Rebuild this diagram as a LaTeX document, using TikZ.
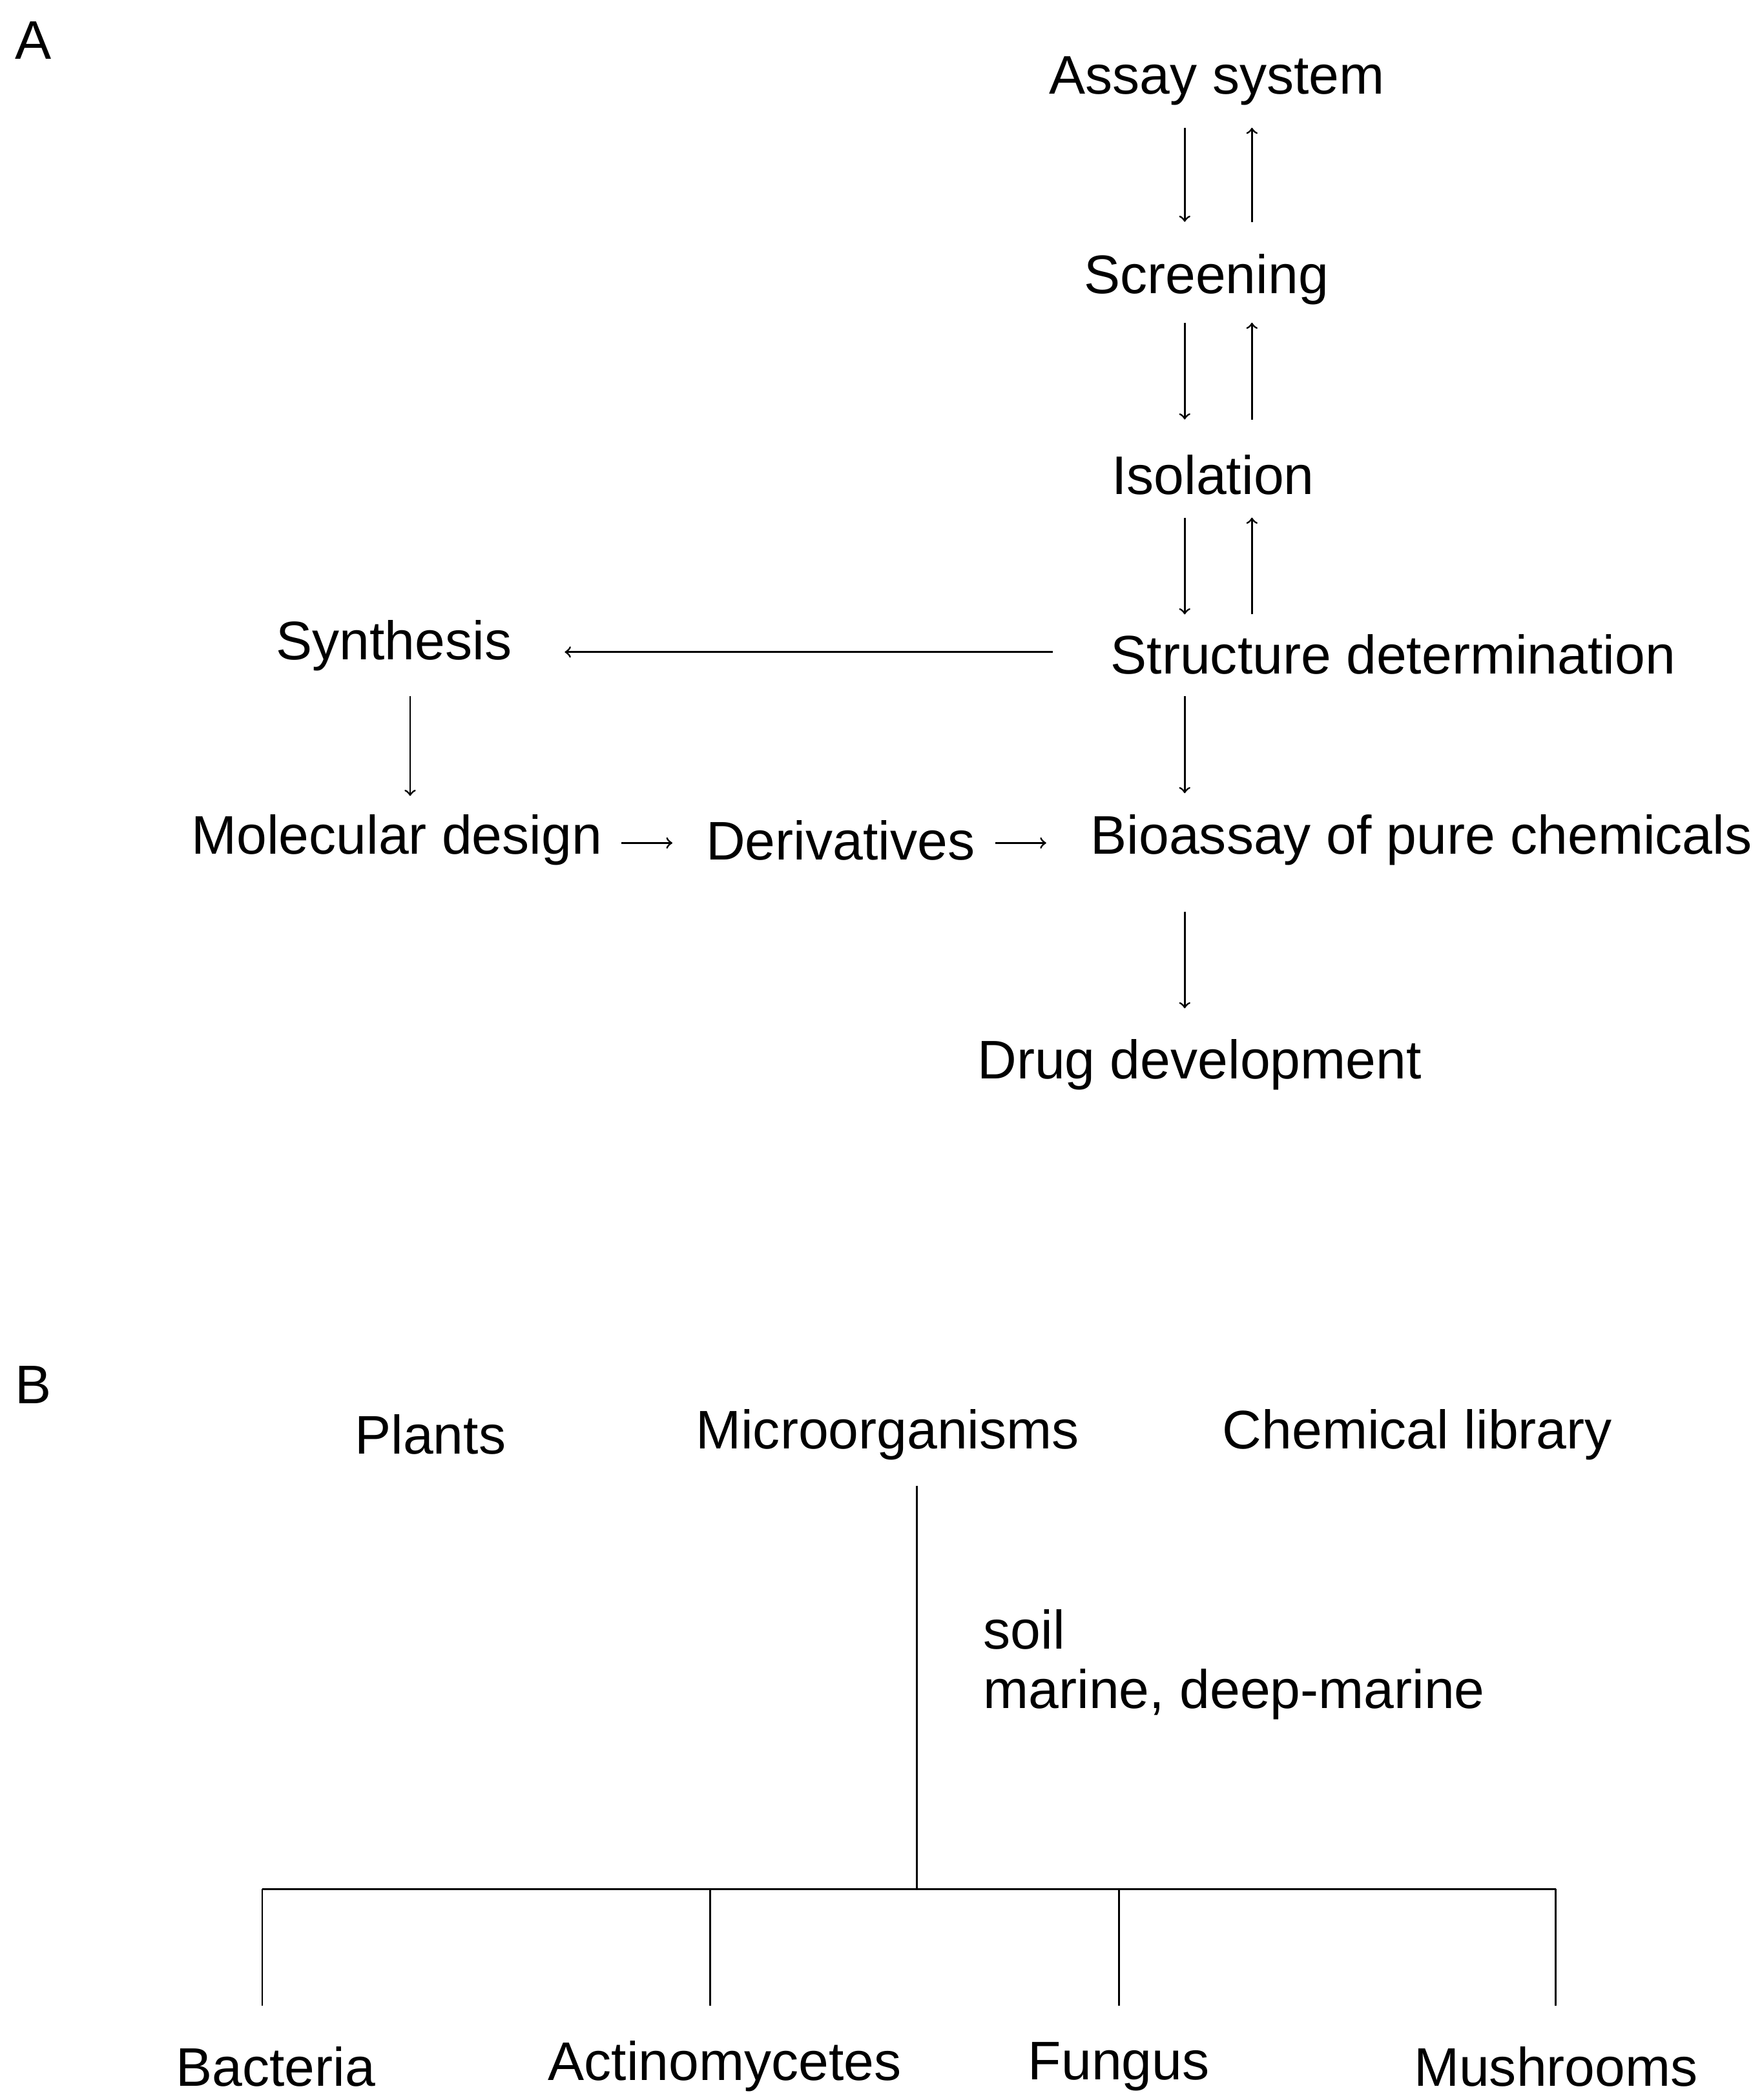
\documentclass[tikz,border=0pt]{standalone}
\usepackage{fontspec}
\setmainfont{Liberation Sans}
\usetikzlibrary{arrows}

\begin{document}
\begin{tikzpicture}[x=0.02cm, y=-0.02cm,
    txt/.style={font=\fontsize{23pt}{27pt}\selectfont, inner sep=0pt},
    arr/.style={->, line width=0.8pt},
    ln/.style={line width=0.8pt}]
          \useasboundingbox (0,0) rectangle (1310,1562);

          % panel A
          \node[txt] (lA) at (25, 30) {A};
          \node[txt] (assay) at (905, 60) {Assay system};
          \node[txt] (screen) at (897, 208) {Screening};
          \node[txt] (isol) at (902, 353) {Isolation};
          \node[txt] (struct) at (1036, 487) {Structure determination};
          \node[txt] (synth) at (293, 480) {Synthesis};
          \node[txt] (mol) at (295, 625) {Molecular design};
          \node[txt] (deriv) at (625, 625) {Derivatives};
          \node[txt] (bio) at (1057, 625) {Bioassay of pure chemicals};
          \node[txt] (drug) at (892, 792) {Drug development};

          \foreach \n/\ya/\yb in {a/95/165, b/240/312, c/385/457} {
            \coordinate (d\n1) at (881, \ya);
            \coordinate (d\n2) at (881, \yb);
            \coordinate (u\n1) at (931, \yb);
            \coordinate (u\n2) at (931, \ya);
            \draw[arr] (d\n1) -- (d\n2);
            \draw[arr] (u\n1) -- (u\n2);
          }
          \coordinate (s1) at (783, 485);
          \coordinate (s2) at (420, 485);
          \draw[arr] (s1) -- (s2);
          \coordinate (m1) at (305, 518);
          \coordinate (m2) at (305, 592);
          \draw[arr] (m1) -- (m2);
          \coordinate (r1) at (462, 627);
          \coordinate (r2) at (500, 627);
          \draw[arr] (r1) -- (r2);
          \coordinate (q1) at (740, 627);
          \coordinate (q2) at (778, 627);
          \draw[arr] (q1) -- (q2);
          \coordinate (b1) at (881, 518);
          \coordinate (b2) at (881, 590);
          \draw[arr] (b1) -- (b2);
          \coordinate (g1) at (881, 678);
          \coordinate (g2) at (881, 750);
          \draw[arr] (g1) -- (g2);

          % panel B
          \node[txt] (lB) at (25, 1030) {B};
          \node[txt] (plants) at (320, 1067) {Plants};
          \node[txt] (micro) at (660, 1067) {Microorganisms};
          \node[txt] (chem) at (1054, 1067) {Chemical library};
          \node[txt, anchor=west] (soil) at (731, 1212) {soil};
          \node[txt, anchor=west] (marine) at (731, 1260) {marine, deep-marine};

          \coordinate (top) at (682, 1105);
          \coordinate (hub) at (682, 1405);
          \coordinate (hl) at (195, 1405);
          \coordinate (hr) at (1157, 1405);
          \draw[ln] (top) -- (hub);
          \draw[ln] (hl) -- (hr);
          \foreach \x/\xt/\name/\t in {195/205/bact/Bacteria, 528/539/acti/Actinomycetes,
                                     832/832/fung/Fungus, 1157/1157/mush/Mushrooms} {
            \node[txt] (\name) at (\xt, 1537) {\t};
            \coordinate (\name a) at (\x, 1405);
            \coordinate (\name b) at (\x, 1492);
            \draw[ln] (\name a) -- (\name b);
          }
        \end{tikzpicture}
\end{document}
